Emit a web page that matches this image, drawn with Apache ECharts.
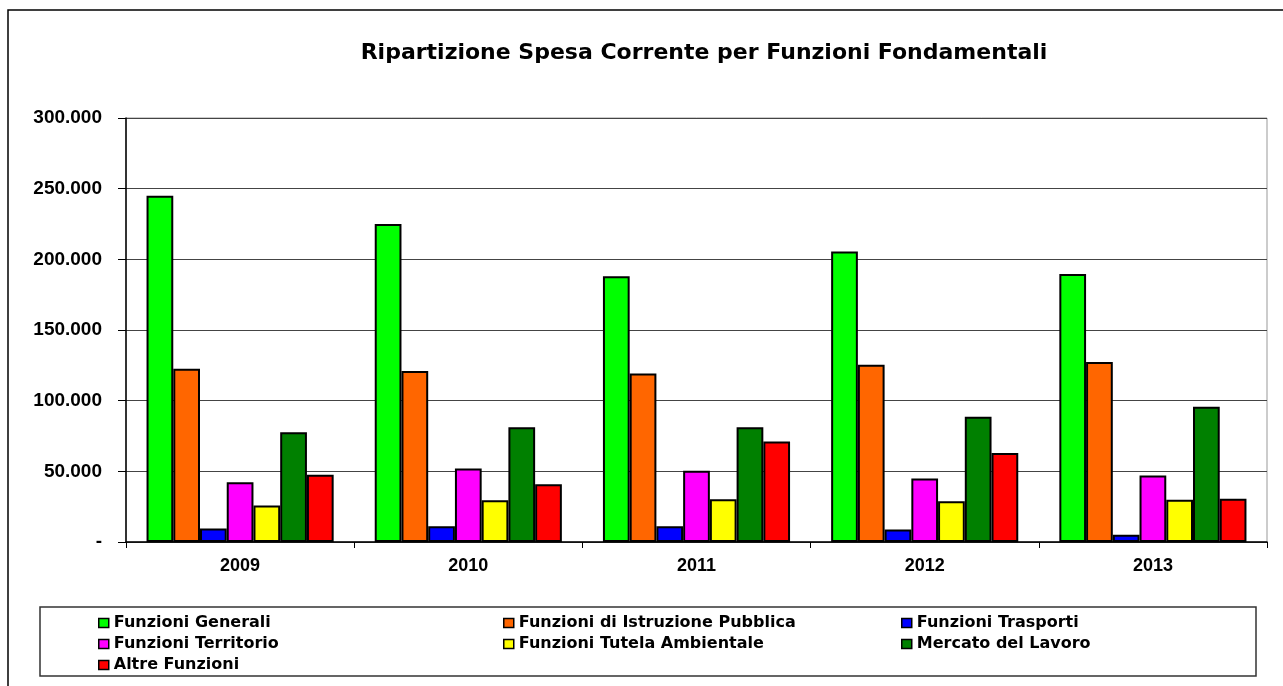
<!DOCTYPE html>
<html>
<head>
<meta charset="utf-8">
<script src="https://cdn.jsdelivr.net/npm/echarts@6/dist/echarts.min.js"></script>
<style>
    html, body { margin: 0; padding: 0; background: #fff; }
    #chart { width: 1283px; height: 686px; }
</style>
</head>
<body>
<div id="chart"></div>
<script>
    // anni
    var years = ['2009', '2010', '2011', '2012', '2013'];

    // valori (euro)
    var generali = [245000, 225000, 188000, 205500, 189700];
    var istruzione = [122600, 121000, 119300, 125400, 127400];
    var trasporti = [9500, 11200, 11200, 8900, 5100];
    var territorio = [42300, 52000, 50400, 45000, 47000];
    var ambiente = [25900, 29500, 30200, 28900, 29900];
    var lavoro = [77600, 81200, 81200, 88600, 95700];
    var altre = [47500, 40800, 71100, 63000, 30600];

    var yTicks = [0, 50000, 100000, 150000, 200000, 250000, 300000];

    var font = 'Liberation Sans, Arial, sans-serif';
    var wideFont = 'DejaVu Sans, Verdana, sans-serif';

    function fmt(v) {
        if (v === 0) return '-';
        var s = String(Math.round(v));
        return s.replace(/\B(?=(\d{3})+(?!\d))/g, '.');
    }

    function serie(name, data, color) {
        return {
            name: name,
            type: 'bar',
            data: data,
            barGap: '0%',
            barCategoryGap: '18%',
            itemStyle: { color: color, borderColor: '#000', borderWidth: 2 }
        };
    }

    var myChart = echarts.init(document.getElementById('chart'));

    var legendText = { color: '#000', fontWeight: 'bold', fontSize: 16, fontFamily: wideFont };
    function legenda(left, names) {
        return {
            orient: 'vertical',
            left: left,
            top: 610,
            itemWidth: 10,
            itemHeight: 9,
            itemGap: 5,
            icon: 'rect',
            itemStyle: { borderWidth: 1.5, borderColor: '#000' },
            textStyle: legendText,
            selectedMode: false,
            data: names
        };
    }

    myChart.setOption({
        animation: false,
        title: {
            text: 'Ripartizione Spesa Corrente per Funzioni Fondamentali',
            left: 699,
            textAlign: 'center',
            top: 37,
            textStyle: { color: '#000', fontWeight: 'bold', fontSize: 22, fontFamily: wideFont }
        },
        graphic: [
            {
                type: 'rect',
                shape: { x: 8, y: 10, width: 1300, height: 700 },
                style: { fill: 'none', stroke: '#000', lineWidth: 1.5 },
                silent: true
            },
            {
                type: 'rect',
                shape: { x: 40, y: 607, width: 1216, height: 69 },
                style: { fill: 'none', stroke: '#333', lineWidth: 1.5 },
                silent: true
            }
        ],
        legend: [
            legenda(93, ['Funzioni Generali', 'Funzioni Territorio', 'Altre Funzioni']),
            legenda(498, ['Funzioni di Istruzione Pubblica', 'Funzioni Tutela Ambientale']),
            legenda(896, ['Funzioni Trasporti', 'Mercato del Lavoro'])
        ],
        grid: {
            left: 126,
            right: 16,
            top: 118,
            bottom: 144,
            show: true,
            borderColor: '#999',
            borderWidth: 1
        },
        xAxis: {
            type: 'category',
            data: years,
            axisLine: { lineStyle: { color: '#000', width: 1.5 } },
            axisTick: { show: true, length: 6, lineStyle: { color: '#000' } },
            axisLabel: { color: '#000', fontWeight: 'bold', fontSize: 18, fontFamily: font, margin: 15 }
        },
        yAxis: {
            type: 'value',
            min: yTicks[0],
            max: yTicks[yTicks.length - 1],
            interval: 50000,
            axisLine: { show: true, lineStyle: { color: '#000', width: 1.5 } },
            axisTick: { show: true, length: 8, lineStyle: { color: '#000' } },
            splitLine: { lineStyle: { color: '#444', width: 1.2 } },
            axisLabel: {
                color: '#000', fontWeight: 'bold', fontSize: 19, fontFamily: font, margin: 24,
                formatter: fmt
            }
        },
        series: [
            serie('Funzioni Generali', generali, '#00ff00'),
            serie('Funzioni di Istruzione Pubblica', istruzione, '#ff6600'),
            serie('Funzioni Trasporti', trasporti, '#0000ff'),
            serie('Funzioni Territorio', territorio, '#ff00ff'),
            serie('Funzioni Tutela Ambientale', ambiente, '#ffff00'),
            serie('Mercato del Lavoro', lavoro, '#008000'),
            serie('Altre Funzioni', altre, '#ff0000')
        ]
    });
</script>
</body>
</html>
